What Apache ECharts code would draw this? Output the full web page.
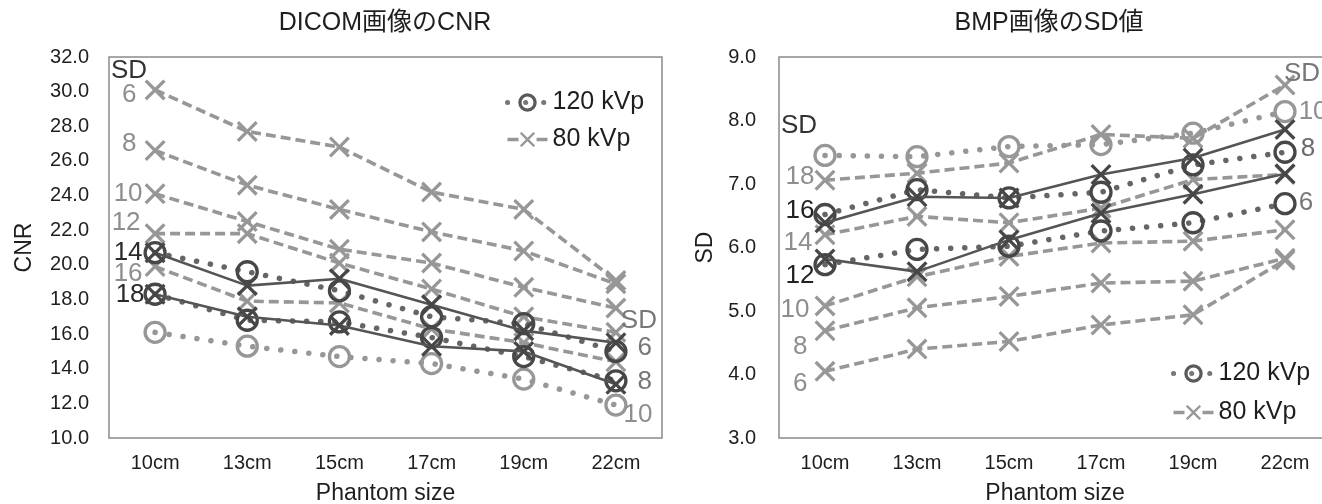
<!DOCTYPE html>
<html>
<head>
<meta charset="utf-8">
<script src="https://cdn.jsdelivr.net/npm/echarts@6/dist/echarts.min.js"></script>
<style>
  html, body { margin: 0; padding: 0; background: #fff; }
  #chart { width: 1322px; height: 504px; }
</style>
</head>
<body>
<div id="chart"></div>
<script>
// Phantom sizes on the horizontal axis
const categories = ['10cm', '13cm', '15cm', '17cm', '19cm', '22cm'];

// DICOM image CNR, 80 kVp, one array per SD setting
const cnr80_sd6  = [30.1, 27.7, 26.8, 24.2, 23.2, 19.1];
const cnr80_sd8  = [26.6, 24.6, 23.2, 21.9, 20.8, 18.9];
const cnr80_sd10 = [24.1, 22.5, 20.9, 20.1, 18.7, 17.5];
const cnr80_sd12 = [21.8, 21.8, 20.1, 18.6, 17.0, 16.1];
const cnr80_sd14 = [20.7, 18.8, 19.2, 17.7, 16.2, 15.5];
const cnr80_sd16 = [19.9, 17.9, 17.8, 16.3, 15.5, 14.4];
const cnr80_sd18 = [18.3, 17.0, 16.5, 15.3, 15.0, 13.1];
// DICOM image CNR, 120 kVp
const cnr120_sd6  = [20.7, 19.6, 18.5, 17.0, 16.6, 15.0];
const cnr120_sd8  = [18.3, 16.8, 16.7, 15.8, 14.7, 13.3];
const cnr120_sd10 = [16.1, 15.3, 14.7, 14.3, 13.4, 11.9];

// BMP image SD, 80 kVp
const bmp80_sd6  = [4.05, 4.40, 4.52, 4.78, 4.94, 5.80];
const bmp80_sd8  = [4.69, 5.05, 5.23, 5.44, 5.47, 5.83];
const bmp80_sd10 = [5.08, 5.54, 5.86, 6.07, 6.10, 6.28];
const bmp80_sd12 = [5.82, 5.62, 6.12, 6.54, 6.84, 7.16];
const bmp80_sd14 = [6.20, 6.49, 6.39, 6.62, 7.07, 7.15];
const bmp80_sd16 = [6.39, 6.80, 6.78, 7.15, 7.41, 7.86];
const bmp80_sd18 = [7.06, 7.17, 7.33, 7.78, 7.72, 8.56];
// BMP image SD, 120 kVp
const bmp120_sd6  = [5.73, 5.97, 6.02, 6.26, 6.39, 6.69];
const bmp120_sd8  = [6.52, 6.91, 6.78, 6.87, 7.30, 7.50];
const bmp120_sd10 = [7.45, 7.43, 7.59, 7.62, 7.80, 8.14];

const FONT = '"Liberation Sans", Arial, "Noto Sans CJK JP", sans-serif';
const LIGHT = '#979797';
const LIGHT_TXT = '#8e8e8e';
const DARK = '#474747';
const DOT_DARK = '#656565';
const CROSS = 'path://M0,11L11,0L50,39L89,0L100,11L61,50L100,89L89,100L50,61L11,100L0,89L39,50Z';

function header(cat, val, dx, color) {
  return {
    symbol: 'circle', symbolSize: 0, silent: true, animation: false,
    data: [{
      coord: [cat, val],
      label: { show: true, position: 'inside', formatter: 'SD', offset: [dx, 0],
               color: color, fontSize: 26, fontFamily: FONT }
    }]
  };
}

// 80 kVp series: cross markers, dashed (or solid when dark); SD tag at the first point
function kv80(axis, values, sd, dark, tag, mark) {
  const s = {
    name: '80 kVp', type: 'line', xAxisIndex: axis, yAxisIndex: axis,
    z: dark ? 4 : 2, animation: false, silent: true,
    symbol: CROSS, symbolSize: 21,
    itemStyle: { color: dark ? DARK : LIGHT },
    lineStyle: dark ? { color: '#555', width: 2.6, type: 'solid' }
                    : { color: LIGHT, width: 3.6, type: [10, 5] },
    label: { show: false, fontFamily: FONT, fontSize: 26 },
    emphasis: { disabled: true },
    data: values.map((v, i) => i === 0 ? {
      value: v,
      label: { show: true, position: 'left', formatter: String(sd), color: tag.c,
               distance: tag.d, offset: [0, tag.dy], fontSize: 26, fontFamily: FONT }
    } : v)
  };
  if (mark) s.markPoint = mark;
  return s;
}

// 120 kVp series: hollow circles on a round-dotted line; SD tag at the last point
function kv120(axis, values, sd, dark, tag, mark) {
  const c = dark ? DARK : LIGHT;
  const last = values.length - 1;
  const s = {
    name: '120 kVp', type: 'line', xAxisIndex: axis, yAxisIndex: axis,
    z: dark ? 3 : 1, animation: false, silent: true,
    symbol: 'circle', symbolSize: 20,
    itemStyle: { color: 'rgba(255,255,255,0)', borderColor: c, borderWidth: 3.3 },
    lineStyle: { color: dark ? DOT_DARK : LIGHT, width: 5.5, type: [0.1, 14], cap: 'round' },
    label: { show: false, fontFamily: FONT, fontSize: 26 },
    emphasis: { disabled: true },
    data: values.map((v, i) => i === last ? {
      value: v,
      label: { show: true, position: 'right', formatter: String(sd), color: tag.c,
               distance: tag.d, offset: [0, tag.dy], fontSize: 26, fontFamily: FONT }
    } : v)
  };
  if (mark) s.markPoint = mark;
  return s;
}

const series = [
  // DICOM CNR
  kv120(0, cnr120_sd6, 6, true, { c: '#777', d: 10, dy: -4 }, header('22cm', 16.75, 23, '#777')),
  kv80(0, cnr80_sd6, 6, false, { c: LIGHT_TXT, d: 8, dy: 5 }, header('10cm', 31.2, -26, '#333')),
  kv80(0, cnr80_sd8, 8, false, { c: LIGHT_TXT, d: 8, dy: -7 }),
  kv80(0, cnr80_sd10, 10, false, { c: LIGHT_TXT, d: 2, dy: 0 }),
  kv80(0, cnr80_sd12, 12, false, { c: LIGHT_TXT, d: 4, dy: -11 }),
  kv80(0, cnr80_sd14, 14, true, { c: '#2a2a2a', d: 2, dy: 0 }),
  kv80(0, cnr80_sd16, 16, false, { c: LIGHT_TXT, d: 2, dy: 7 }),
  kv80(0, cnr80_sd18, 18, true, { c: '#2a2a2a', d: 0, dy: 1 }),
  kv120(0, cnr120_sd8, 8, true, { c: '#777', d: 10, dy: 1 }),
  kv120(0, cnr120_sd10, 10, false, { c: LIGHT_TXT, d: -4, dy: 10 }),
  // BMP SD
  kv120(1, bmp120_sd6, 6, true, { c: '#777', d: 2, dy: -1 }),
  kv120(1, bmp120_sd8, 8, true, { c: '#6a6a6a', d: 4, dy: -3 }),
  kv120(1, bmp120_sd10, 10, false, { c: LIGHT_TXT, d: 2, dy: 0 }, header('22cm', 8.74, 17, '#777')),
  kv80(1, bmp80_sd6, 6, false, { c: LIGHT_TXT, d: 7, dy: 13 }),
  kv80(1, bmp80_sd8, 8, false, { c: LIGHT_TXT, d: 7, dy: 16 }),
  kv80(1, bmp80_sd10, 10, false, { c: LIGHT_TXT, d: 5, dy: 4 }),
  kv80(1, bmp80_sd12, 12, true, { c: '#222', d: 0, dy: 17 }),
  kv80(1, bmp80_sd14, 14, false, { c: LIGHT_TXT, d: 2, dy: 8 }),
  kv80(1, bmp80_sd16, 16, true, { c: '#222', d: 0, dy: -12 }),
  kv80(1, bmp80_sd18, 18, false, { c: LIGHT_TXT, d: 0, dy: -3 }, header('10cm', 7.92, -26, '#333'))
];

function catAxis(idx) {
  return {
    type: 'category', gridIndex: idx, data: categories, boundaryGap: true,
    axisLine: { show: false }, axisTick: { show: false },
    axisLabel: { color: '#1e1e1e', fontSize: 20, fontFamily: FONT, margin: 15 },
    name: 'Phantom size', nameLocation: 'middle', nameGap: 44, nameMoveOverlap: false,
    nameTextStyle: { color: '#1e1e1e', fontSize: 23, fontFamily: FONT }
  };
}

function valAxis(idx, min, max, step, name, gap, margin) {
  return {
    type: 'value', gridIndex: idx, min: min, max: max, interval: step,
    axisLine: { show: false }, axisTick: { show: false }, splitLine: { show: false },
    axisLabel: { color: '#1e1e1e', fontSize: 20, fontFamily: FONT, margin: margin,
                 formatter: v => v.toFixed(1) },
    name: name, nameLocation: 'middle', nameGap: gap, nameMoveOverlap: false,
    nameTextStyle: { color: '#1e1e1e', fontSize: 23, fontFamily: FONT }
  };
}

function legendData() {
  return [
    { name: '120 kVp',
      itemStyle: { color: 'rgba(255,255,255,0)', borderColor: '#5a5a5a', borderWidth: 3.3 },
      lineStyle: { color: '#777', width: 5, type: [0.1, 18], cap: 'round' } },
    { name: '80 kVp',
      itemStyle: { color: LIGHT },
      lineStyle: { color: LIGHT, width: 3.5, type: [11, 18] } }
  ];
}

const legendBase = {
  orient: 'vertical', padding: 0, itemWidth: 40, itemHeight: 19, itemGap: 12,
  selectedMode: false,
  textStyle: { color: '#1e1e1e', fontSize: 25, fontFamily: FONT }
};

const gridBase = {
  top: 57, height: 381, show: true, outerBoundsMode: 'none', containLabel: false,
  borderColor: '#8a8a8a', borderWidth: 1.5, backgroundColor: 'rgba(0,0,0,0)'
};

const option = {
  animation: false,
  backgroundColor: '#ffffff',
  textStyle: { fontFamily: FONT },
  title: [
    { text: 'DICOM画像のCNR', left: 385, top: 11, padding: 0, textAlign: 'center',
      textStyle: { color: '#1e1e1e', fontSize: 25, fontWeight: 'normal', fontFamily: FONT } },
    { text: 'BMP画像のSD値', left: 1049, top: 11, padding: 0, textAlign: 'center',
      textStyle: { color: '#1e1e1e', fontSize: 25, fontWeight: 'normal', fontFamily: FONT } }
  ],
  legend: [
    Object.assign({}, legendBase, { left: 505, top: 90, data: legendData() }),
    Object.assign({}, legendBase, { left: 1171, top: 361, itemGap: 14, data: legendData() })
  ],
  grid: [
    Object.assign({}, gridBase, { left: 109, width: 553 }),
    Object.assign({}, gridBase, { left: 779, width: 552 })
  ],
  xAxis: [catAxis(0), catAxis(1)],
  yAxis: [
    valAxis(0, 10, 32, 2, 'CNR', 73, 20),
    valAxis(1, 3, 9, 1, 'SD', 62, 23)
  ],
  series: series
};

const chart = echarts.init(document.getElementById('chart'), null, { renderer: 'canvas' });
chart.setOption(option);
</script>
</body>
</html>
